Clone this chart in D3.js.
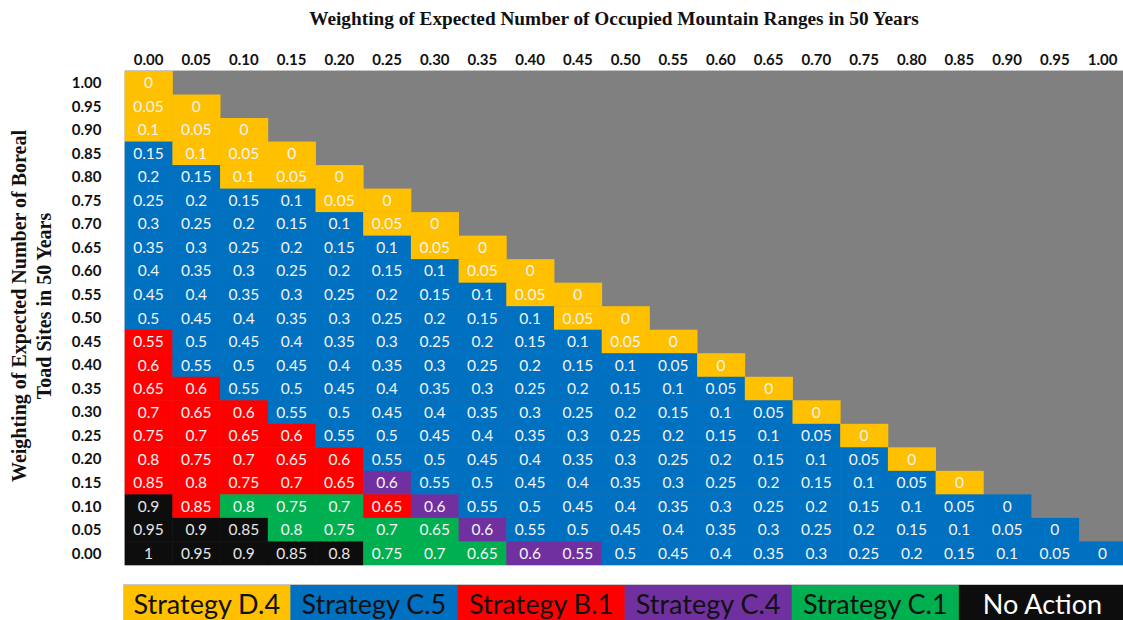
<!DOCTYPE html>
<html>
<head>
<meta charset="utf-8">
<script src="https://cdn.jsdelivr.net/npm/d3@7"></script>
<style>
  html, body { margin: 0; padding: 0; background: #fff; }
  svg { display: block; }
</style>
</head>
<body>
<div id="chart"></div>
<script>
// x weighting (occupied mountain ranges)
var colLabels = ["0.00","0.05","0.10","0.15","0.20","0.25","0.30","0.35","0.40","0.45","0.50",
  "0.55","0.60","0.65","0.70","0.75","0.80","0.85","0.90","0.95","1.00"];
// y weighting (boreal toad sites), top to bottom
var rowLabels = ["1.00","0.95","0.90","0.85","0.80","0.75","0.70","0.65","0.60","0.55","0.50",
  "0.45","0.40","0.35","0.30","0.25","0.20","0.15","0.10","0.05","0.00"];

// best strategy per cell, one string per row (D=D.4, C=C.5, B=B.1, P=C.4, G=C.1, N=No Action)
var strategyRows = [
  "D",
  "DD",
  "DDD",
  "CDDD",
  "CCDDD",
  "CCCCDD",
  "CCCCCDD",
  "CCCCCCDD",
  "CCCCCCCDD",
  "CCCCCCCCDD",
  "CCCCCCCCCDD",
  "BCCCCCCCCCDD",
  "BCCCCCCCCCCCD",
  "BBCCCCCCCCCCCD",
  "BBBCCCCCCCCCCCD",
  "BBBBCCCCCCCCCCCD",
  "BBBBBCCCCCCCCCCCD",
  "BBBBBPCCCCCCCCCCCD",
  "NBGGGBPCCCCCCCCCCCC",
  "NNNGGGGPCCCCCCCCCCCC",
  "NNNNNGGGPPCCCCCCCCCCC"
];

// value printed in each cell
var cellLabels = [
  "0",
  "0.05 0",
  "0.1 0.05 0",
  "0.15 0.1 0.05 0",
  "0.2 0.15 0.1 0.05 0",
  "0.25 0.2 0.15 0.1 0.05 0",
  "0.3 0.25 0.2 0.15 0.1 0.05 0",
  "0.35 0.3 0.25 0.2 0.15 0.1 0.05 0",
  "0.4 0.35 0.3 0.25 0.2 0.15 0.1 0.05 0",
  "0.45 0.4 0.35 0.3 0.25 0.2 0.15 0.1 0.05 0",
  "0.5 0.45 0.4 0.35 0.3 0.25 0.2 0.15 0.1 0.05 0",
  "0.55 0.5 0.45 0.4 0.35 0.3 0.25 0.2 0.15 0.1 0.05 0",
  "0.6 0.55 0.5 0.45 0.4 0.35 0.3 0.25 0.2 0.15 0.1 0.05 0",
  "0.65 0.6 0.55 0.5 0.45 0.4 0.35 0.3 0.25 0.2 0.15 0.1 0.05 0",
  "0.7 0.65 0.6 0.55 0.5 0.45 0.4 0.35 0.3 0.25 0.2 0.15 0.1 0.05 0",
  "0.75 0.7 0.65 0.6 0.55 0.5 0.45 0.4 0.35 0.3 0.25 0.2 0.15 0.1 0.05 0",
  "0.8 0.75 0.7 0.65 0.6 0.55 0.5 0.45 0.4 0.35 0.3 0.25 0.2 0.15 0.1 0.05 0",
  "0.85 0.8 0.75 0.7 0.65 0.6 0.55 0.5 0.45 0.4 0.35 0.3 0.25 0.2 0.15 0.1 0.05 0",
  "0.9 0.85 0.8 0.75 0.7 0.65 0.6 0.55 0.5 0.45 0.4 0.35 0.3 0.25 0.2 0.15 0.1 0.05 0",
  "0.95 0.9 0.85 0.8 0.75 0.7 0.65 0.6 0.55 0.5 0.45 0.4 0.35 0.3 0.25 0.2 0.15 0.1 0.05 0",
  "1 0.95 0.9 0.85 0.8 0.75 0.7 0.65 0.6 0.55 0.5 0.45 0.4 0.35 0.3 0.25 0.2 0.15 0.1 0.05 0"
];

var strategyCodes = ["D","C","B","P","G","N"];
var strategyNames = ["Strategy D.4","Strategy C.5","Strategy B.1","Strategy C.4","Strategy C.1","No Action"];
var strategyColors = ["#FFC000","#0070C0","#FF0000","#7030A0","#00B050","#0D0D0D"];
var legendTextColors = ["#111","#111","#111","#111","#111","#fff"];

var W = 1123, H = 620;
var grid = {left: 124.7, top: 71, cellW: 47.7, cellH: 23.52};

var svg = d3.select("#chart").append("svg")
  .attr("width", W)
  .attr("height", H);

var x = d3.scaleBand()
  .domain(colLabels)
  .range([grid.left, grid.left + grid.cellW * colLabels.length])
  .padding(0);
var y = d3.scaleBand()
  .domain(rowLabels)
  .range([grid.top, grid.top + grid.cellH * rowLabels.length])
  .padding(0);

var colorScale = d3.scaleOrdinal().domain(strategyCodes).range(strategyColors);

// flatten rows into cells
var cells = [];
strategyRows.forEach(function(s, r) {
  var labels = cellLabels[r].split(" ");
  s.split("").forEach(function(code, c) {
    cells.push({row: rowLabels[r], col: colLabels[c], code: code, label: labels[c]});
  });
});

// title
svg.append("text")
  .attr("x", 614)
  .attr("y", 25)
  .attr("text-anchor", "middle")
  .style("font-family", "'Liberation Serif', 'Times New Roman', serif")
  .style("font-weight", "bold")
  .style("font-size", "19.3px")
  .style("fill", "#111")
  .text("Weighting of Expected Number of Occupied Mountain Ranges in 50 Years");

// y title, two lines
var yTitle = svg.append("text")
  .attr("transform", "translate(0," + 306 + ")rotate(-90)")
  .attr("text-anchor", "middle")
  .style("font-family", "'Liberation Serif', 'Times New Roman', serif")
  .style("font-weight", "bold")
  .style("font-size", "20px")
  .style("fill", "#111");
yTitle.append("tspan").attr("x", 0).attr("y", 25.5).text("Weighting of Expected Number of Boreal");
yTitle.append("tspan").attr("x", 0).attr("y", 50.5).text("Toad Sites in 50 Years");

// gray background for the unused triangle
svg.append("rect")
  .attr("x", x.range()[0])
  .attr("y", y.range()[0])
  .attr("width", x.range()[1] - x.range()[0])
  .attr("height", y.range()[1] - y.range()[0])
  .attr("fill", "#808080");
svg.append("line")
  .attr("x1", x.range()[0]).attr("x2", W)
  .attr("y1", y.range()[0] - 0.5).attr("y2", y.range()[0] - 0.5)
  .attr("stroke", "#c8c8c8");

var cellG = svg.append("g").selectAll("g")
  .data(cells)
  .enter().append("g")
  .attr("transform", function(d) { return "translate(" + x(d.col) + "," + y(d.row) + ")"; });

cellG.append("rect")
  .attr("width", x.bandwidth() + 0.4)
  .attr("height", y.bandwidth() + 0.4)
  .attr("fill", function(d) { return colorScale(d.code); });

cellG.append("text")
  .attr("x", x.bandwidth() / 2)
  .attr("y", y.bandwidth() / 2)
  .attr("dy", "0.36em")
  .attr("text-anchor", "middle")
  .style("font-family", "Lato, 'Open Sans', sans-serif")
  .style("font-size", "15.5px")
  .style("fill", function(d) { return d.code == "N" ? "#e6e6e6" : "#f4f4f4"; })
  .text(function(d) { return d.label; });

// column headers
svg.append("g").selectAll("text")
  .data(colLabels)
  .enter().append("text")
  .attr("x", function(d) { return x(d) + x.bandwidth() / 2; })
  .attr("y", 60)
  .attr("dy", "0.36em")
  .attr("text-anchor", "middle")
  .style("font-family", "Lato, sans-serif")
  .style("font-weight", "bold")
  .style("font-size", "15px")
  .style("fill", "#111")
  .text(function(d) { return d; });

// row headers
svg.append("g").selectAll("text")
  .data(rowLabels)
  .enter().append("text")
  .attr("x", 101.5)
  .attr("y", function(d) { return y(d) + y.bandwidth() / 2; })
  .attr("dy", "0.36em")
  .attr("text-anchor", "end")
  .style("font-family", "Lato, sans-serif")
  .style("font-weight", "bold")
  .style("font-size", "15px")
  .style("fill", "#111")
  .text(function(d) { return d; });

// legend strip
var legendX = d3.scaleBand()
  .domain(strategyNames)
  .range([grid.left - 1.5, W + 3]);
var legendTop = 585;

var legendG = svg.append("g").selectAll("g")
  .data(strategyNames)
  .enter().append("g")
  .attr("transform", function(d) { return "translate(" + legendX(d) + "," + legendTop + ")"; });

legendG.append("rect")
  .attr("width", legendX.bandwidth() + 0.5)
  .attr("height", H - legendTop)
  .attr("fill", function(d, i) { return strategyColors[i]; });

legendG.append("text")
  .attr("x", legendX.bandwidth() / 2)
  .attr("y", 19)
  .attr("dy", "0.36em")
  .attr("text-anchor", "middle")
  .style("font-family", "Lato, 'Open Sans', sans-serif")
  .style("font-size", "27px")
  .style("fill", function(d, i) { return legendTextColors[i]; })
  .text(function(d) { return d; });

svg.append("line")
  .attr("x1", legendX.range()[0]).attr("x2", W)
  .attr("y1", legendTop - 0.5).attr("y2", legendTop - 0.5)
  .attr("stroke", "#c8c8c8");
</script>
</body>
</html>
